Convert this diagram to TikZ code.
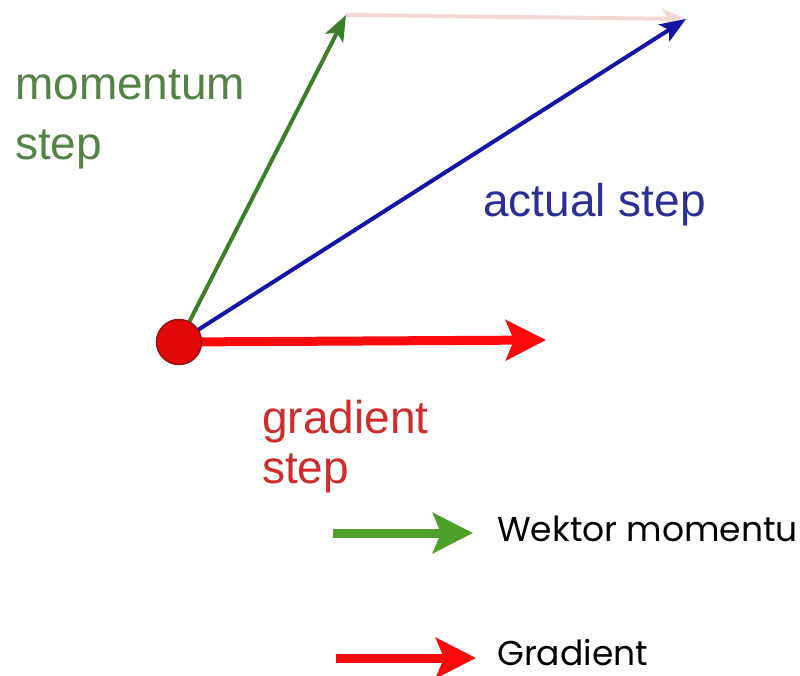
\documentclass[tikz,border=0pt]{standalone}
\usepackage{fontspec}
\setmainfont{Liberation Sans}
\newfontfamily\legendfont{Poppins}
\usetikzlibrary{arrows.meta}
\definecolor{momgreen}{RGB}{58,128,40}
\definecolor{momtext}{RGB}{84,130,70}
\definecolor{actblue}{RGB}{20,20,165}
\definecolor{acttext}{RGB}{45,45,150}
\definecolor{gradred}{RGB}{250,10,10}
\definecolor{gradtext}{RGB}{205,45,45}
\definecolor{dotedge}{RGB}{150,20,20}
\definecolor{faint}{RGB}{242,218,212}
\definecolor{leggreen}{RGB}{78,160,40}
\tikzset{
  lbl/.style={inner sep=0pt, align=left, anchor=base west},
  legtext/.style={font=\legendfont\fontsize{34.5}{40}\selectfont, inner sep=0pt, text depth=0pt, anchor=base west, text=black},
  thinarrow/.style={line width=4pt, -{Stealth[length=26pt,width=20pt,inset=6pt]}},
  fatarrow/.style={line width=9pt, -{Stealth[length=40pt,width=40pt,inset=8pt]}},
}
\begin{document}
\begin{tikzpicture}[x=1pt,y=-1pt]
\useasboundingbox (0,0) rectangle (800,676);
\coordinate (mtip) at (346,15);
\coordinate (atip) at (686,19);
\coordinate (gtip) at (546,340);
\coordinate (oc) at (179,342);
\draw[faint, line width=4pt, -{Stealth[length=24pt,width=20pt,inset=6pt]}] (mtip) -- (atip);
\draw[thinarrow, momgreen] (oc) -- (mtip);
\draw[thinarrow, actblue] (oc) -- (atip);
\draw[fatarrow, gradred] (oc) -- (gtip);
\node[circle, fill=gradred!90!black, draw=dotedge, line width=1.5pt, minimum size=45pt, inner sep=0pt] (o) at (oc) {};
\node[lbl, text=momtext, font=\fontsize{46}{60}\selectfont] (mlab) at (15,160) {momentum\\step};
\node[lbl, text=acttext, font=\fontsize{46}{60}\selectfont] (alab) at (483,217) {actual step};
\node[lbl, text=gradtext, font=\fontsize{46}{50}\selectfont] (glab) at (262,483) {gradient\\step};
\coordinate (l1s) at (333,533);
\coordinate (l1e) at (473,533);
\coordinate (l2s) at (336,658);
\coordinate (l2e) at (476,658);
\draw[fatarrow, leggreen] (l1s) -- (l1e);
\draw[fatarrow, gradred] (l2s) -- (l2e);
\node[legtext] (t1) at (497,541) {Wektor momentu};
\node[legtext] (t2) at (497,665) {Gradient};
\end{tikzpicture}
\end{document}
